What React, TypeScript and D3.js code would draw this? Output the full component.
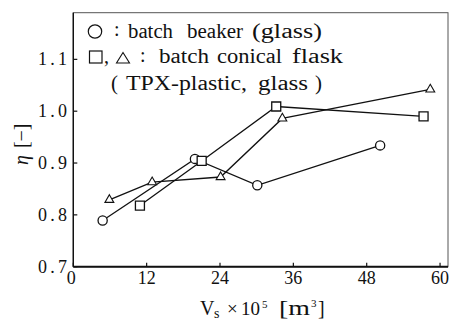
import React from "react";
import * as d3 from "d3";

// Efficiency η against solution volume Vs (×10^5 m³)
const beakerX = [4.8, 19.9, 30.1, 50.2];
const beakerY = [0.789, 0.908, 0.857, 0.934];

const tpxX = [10.9, 21.0, 33.2, 57.3];
const tpxY = [0.818, 0.904, 1.009, 0.99];

const glassX = [5.9, 12.9, 24.1, 34.2, 58.4];
const glassY = [0.829, 0.863, 0.873, 0.986, 1.042];

const xTicks = [0, 12, 24, 36, 48, 60];
const yTicks = [0.7, 0.8, 0.9, 1.0, 1.1];

const W = 455;
const H = 322;
const serif = { fontFamily: "Liberation Serif" };

// legend words laid out as [text, x, width]
const legendLine1: [string, number, number][] = [
  ["batch", 128, 45],
  ["beaker", 187, 56],
  ["(glass)", 252, 70],
];
const legendLine2: [string, number, number][] = [
  ["batch", 159, 50],
  ["conical", 217, 65],
  ["flask", 292, 51],
];
const legendLine3: [string, number, number][] = [
  ["(", 111, 7],
  ["TPX-plastic,", 126, 121],
  ["glass", 258, 50],
  [")", 315, 7],
];

function Words({ words, y }: { words: [string, number, number][]; y: number }) {
  return (
    <>
      {words.map(([w, wx, len]) => (
        <text key={w + wx} x={wx} y={y} textLength={len} lengthAdjust="spacingAndGlyphs" style={serif} fontSize={20} fill="#111">
          {w}
        </text>
      ))}
    </>
  );
}

export default function App() {
  const x = d3.scaleLinear().domain([0, 61.3]).range([73.3, 448]);
  const y = d3.scaleLinear().domain([0.7, 1.19]).range([266.7, 12.7]);
  const line = d3
    .line<[number, number]>()
    .x((d) => x(d[0]))
    .y((d) => y(d[1]));

  const zip = (xs: number[], ys: number[]) =>
    xs.map((v, i) => [v, ys[i]] as [number, number]);

  const beaker = zip(beakerX, beakerY);
  const tpx = zip(tpxX, tpxY);
  const glass = zip(glassX, glassY);

  const sq = d3.symbol(d3.symbolSquare, 81)()!;
  const tri = d3.symbol(d3.symbolTriangle, 34)()!;

  const [x0, x1] = x.range();
  const [y0, y1] = y.range();

  return (
    <div style={{ position: "absolute", left: 0, top: 0 }}>
      <svg width={W} height={H} style={{ display: "block", background: "#fff" }}>
        {/* frame */}
        <rect x={x0} y={y1} width={x1 - x0} height={y0 - y1} fill="none" stroke="#555" strokeWidth={1} />
        <line x1={x0} x2={x0} y1={y1} y2={y0} stroke="#111" strokeWidth={1.4} />
        <line x1={x0} x2={x1} y1={y0} y2={y0} stroke="#111" strokeWidth={2} />

        {/* ticks */}
        {xTicks.map((t) => (
          <g key={"xt" + t}>
            <line x1={x(t)} x2={x(t)} y1={y0} y2={y0 - 4} stroke="#111" strokeWidth={1.2} />
            <text x={x(t) - (t === 0 ? 2 : 0)} y={284} textAnchor="middle" style={serif} fontSize={18} fill="#111">
              {t}
            </text>
          </g>
        ))}
        {yTicks.map((t) => (
          <g key={"yt" + t}>
            <line x1={x0} x2={x0 + 4} y1={y(t)} y2={y(t)} stroke="#111" strokeWidth={1.2} />
            <text x={38} y={y(t) + 6} textLength={29} lengthAdjust="spacing" style={serif} fontSize={18} fill="#111">
              {t.toFixed(1)}
            </text>
          </g>
        ))}

        {/* axis titles */}
        <g style={serif} fill="#111">
          <text x={200} y={315} fontSize={20}>V</text>
          <text x={214} y={318} fontSize={14}>s</text>
          <text x={227} y={315} fontSize={19}>×</text>
          <text x={241} y={315} fontSize={19}>10</text>
          <text x={262} y={308} fontSize={11}>5</text>
          <text x={279} y={315} fontSize={20} textLength={31} lengthAdjust="spacingAndGlyphs">[m</text>
          <text x={311} y={307} fontSize={11}>3</text>
          <text x={318} y={315} fontSize={20}>]</text>
        </g>
        <text transform="translate(28,165) rotate(-90)" style={serif} fontSize={20} fill="#111">
          <tspan fontStyle="italic">η</tspan>
          <tspan dx={7}>[−]</tspan>
        </text>

        {/* series lines */}
        <path d={line(beaker)!} fill="none" stroke="#111" strokeWidth={1.3} />
        <path d={line(tpx)!} fill="none" stroke="#111" strokeWidth={1.3} />
        <path d={line(glass)!} fill="none" stroke="#111" strokeWidth={1.3} />

        {/* markers */}
        {beaker.map((d, i) => (
          <circle key={"c" + i} cx={x(d[0])} cy={y(d[1])} r={4.6} fill="#fff" stroke="#111" strokeWidth={1.3} />
        ))}
        {tpx.map((d, i) => (
          <path key={"s" + i} d={sq} transform={`translate(${x(d[0])},${y(d[1])})`} fill="#fff" stroke="#111" strokeWidth={1.3} />
        ))}
        {glass.map((d, i) => (
          <path key={"t" + i} d={tri} transform={`translate(${x(d[0])},${y(d[1])})`} fill="#fff" stroke="#111" strokeWidth={1.1} />
        ))}

        {/* legend */}
        <circle cx={95} cy={31.5} r={6.7} fill="none" stroke="#111" strokeWidth={1.2} />
        <text x={114} y={36} style={serif} fontSize={20} fill="#111">:</text>
        <Words words={legendLine1} y={38} />

        <rect x={89.5} y={51} width={12.5} height={12} fill="none" stroke="#111" strokeWidth={1.2} />
        <text x={104} y={63} style={serif} fontSize={20} fill="#111">,</text>
        <path d="M123,52.5 L129.5,63 L116.5,63 Z" fill="none" stroke="#111" strokeWidth={1.1} />
        <text x={140} y={62} style={serif} fontSize={20} fill="#111">:</text>
        <Words words={legendLine2} y={63} />

        <Words words={legendLine3} y={90} />
      </svg>
    </div>
  );
}
